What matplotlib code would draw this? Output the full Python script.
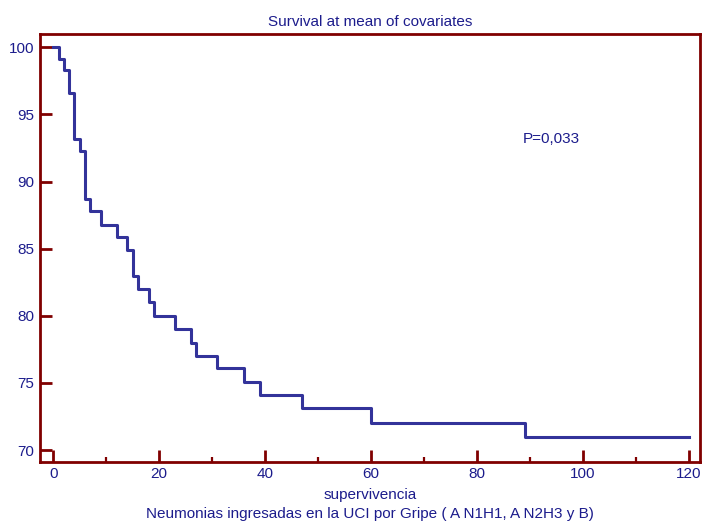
import matplotlib.pyplot as plt
from matplotlib.ticker import MultipleLocator

# step survival curve
times = [0, 1, 2, 3, 4, 5, 6, 7, 9, 12, 14, 15, 16, 18, 19, 23, 26, 27, 31, 36, 39, 47, 60, 89, 120]
survival = [100, 99.1, 98.3, 96.6, 93.2, 92.3, 88.7, 87.8, 86.8, 85.9, 84.9, 83.0, 82.0, 81.0,
            80.0, 79.0, 78.0, 77.0, 76.1, 75.1, 74.1, 73.1, 72.0, 71.0, 71.0]
x_ticks = [0, 20, 40, 60, 80, 100, 120]
y_ticks = [70, 75, 80, 85, 90, 95, 100]

txt = '#1c1c8c'
red = '#800000'
plt.rcParams['font.family'] = ['Liberation Sans', 'DejaVu Sans']

fig = plt.figure(figsize=(7.03, 5.24), dpi=100)
ax = fig.add_axes([40 / 703, 1 - 461.7 / 524, 660 / 703, (461.7 - 34.3) / 524])

ax.step(times, survival, where='post', color='#33339a', linewidth=2.2)

ax.set_xlim(-2.5, 122.1)
ax.set_ylim(69.13, 100.97)
ax.set_xticks(x_ticks)
ax.set_yticks(y_ticks)
ax.xaxis.set_minor_locator(MultipleLocator(10))

for s in ax.spines.values():
    s.set_color(red)
    s.set_linewidth(2)

ax.tick_params(which='major', direction='in', length=8.5, width=2, color=red,
               labelcolor=txt, labelsize=11)
ax.tick_params(axis='x', which='major', pad=4)
ax.tick_params(axis='y', which='major', pad=4)
ax.tick_params(axis='x', which='minor', direction='in', length=3.5, width=1.6, color=red)

ax.set_title('Survival at mean of covariates', color=txt, fontsize=11, pad=6)
ax.set_xlabel('supervivencia\nNeumonias ingresadas en la UCI por Gripe ( A N1H1, A N2H3 y B)',
              color=txt, fontsize=11, linespacing=1.4, labelpad=5)
ax.text(88.7, 93.2, 'P=0,033', color=txt, fontsize=11, ha='left', va='center')

fig.savefig('out.png', dpi=100)
